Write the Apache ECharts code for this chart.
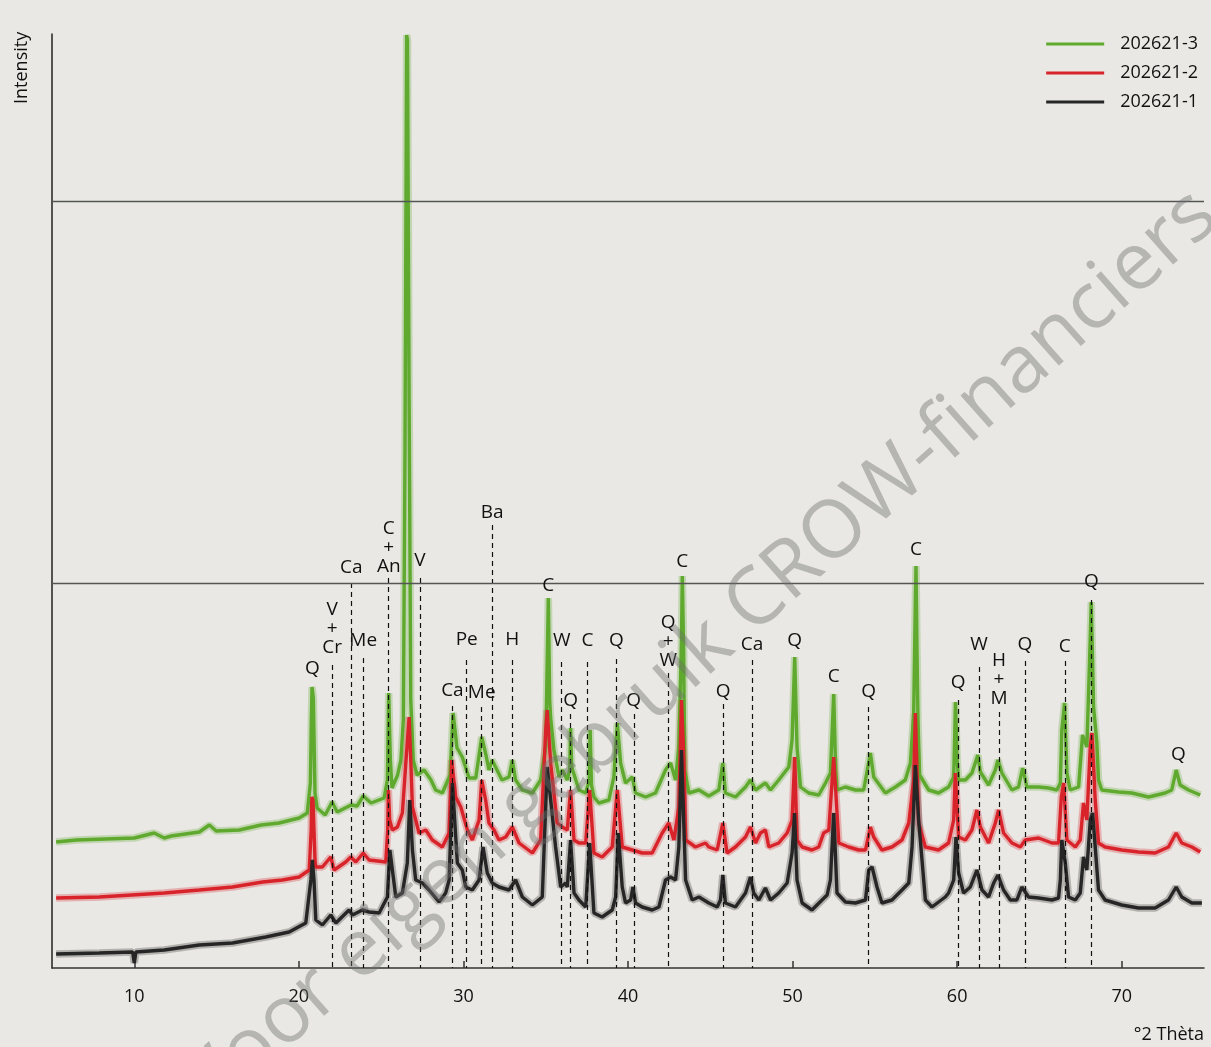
<!DOCTYPE html>
<html><head><meta charset="utf-8">
<script src="https://cdn.jsdelivr.net/npm/echarts@6/dist/echarts.min.js"></script>
<style>html,body{margin:0;padding:0;background:#e9e8e4;} #c{width:1211px;height:1047px;}</style>
</head><body><div id="c"></div>
<script>
// ---- data (°2θ, intensity in arbitrary units) ----
const seriesNames = ['202621-3', '202621-2', '202621-1'];
const seriesColors = ['#5ea92e', '#d8232a', '#262626'];

const s3 = [[5.25,126],[6.48,128],[10.00,130],[11.21,135],[11.82,130],[12.25,132],[13.95,136],[14.56,143],[14.98,137],[16.38,138],[17.71,143],[18.80,145],[20.02,150],[20.51,155],[20.70,185],[20.76,250],[20.80,281],[20.88,270],[20.98,175],[21.11,160],[21.60,153],[22.02,166],[22.33,156],[23.18,163],[23.54,162],[23.91,172],[24.39,165],[25.18,170],[25.38,188],[25.46,275],[25.56,208],[25.66,180],[26.00,193],[26.20,208],[26.35,248],[26.45,518],[26.55,933],[26.60,928],[26.70,568],[26.80,268],[26.95,208],[27.18,193],[27.30,192],[27.61,198],[28.03,188],[28.31,178],[28.72,175],[29.19,193],[29.37,255],[29.61,220],[29.93,211],[30.34,190],[30.75,190],[31.11,231],[31.37,213],[31.55,198],[31.74,208],[32.34,188],[32.77,191],[32.97,208],[33.17,188],[33.58,178],[34.19,175],[34.69,188],[35.00,221],[35.16,370],[35.24,268],[35.30,250],[35.50,218],[35.81,191],[36.01,198],[36.31,188],[36.46,198],[36.51,240],[36.58,201],[37.02,178],[37.43,175],[37.65,188],[37.70,238],[37.78,183],[37.93,171],[38.23,165],[38.84,168],[39.14,191],[39.35,245],[39.55,205],[39.85,185],[40.26,191],[40.46,175],[41.07,171],[41.67,175],[42.28,198],[42.59,205],[42.89,188],[43.09,221],[43.25,328],[43.30,392],[43.38,318],[43.45,198],[43.70,175],[44.31,178],[44.91,172],[45.52,178],[45.76,205],[45.92,175],[46.53,171],[47.14,181],[47.44,188],[47.75,178],[48.35,185],[48.66,178],[49.16,188],[49.77,201],[49.97,228],[50.13,311],[50.27,221],[50.48,181],[50.98,175],[51.59,173],[52.00,185],[52.30,195],[52.50,274],[52.62,198],[52.70,178],[53.21,181],[53.82,178],[54.32,178],[54.73,215],[54.93,191],[55.64,175],[56.25,181],[56.85,188],[57.16,205],[57.36,255],[57.46,368],[57.50,402],[57.56,318],[57.62,248],[57.72,193],[58.27,178],[58.87,175],[59.48,181],[59.79,191],[59.90,266],[60.00,208],[60.09,188],[60.50,188],[60.90,195],[61.26,213],[61.41,196],[61.91,183],[62.32,198],[62.48,208],[62.72,195],[63.33,178],[63.73,181],[63.98,200],[64.24,181],[64.95,181],[65.55,180],[66.06,178],[66.27,185],[66.36,238],[66.53,265],[66.67,195],[66.87,178],[67.38,181],[67.62,233],[67.88,221],[68.03,298],[68.15,366],[68.29,261],[68.49,225],[68.59,188],[68.79,178],[69.80,176],[70.61,175],[71.63,171],[72.64,175],[73.04,178],[73.31,198],[73.55,183],[74.06,178],[74.77,173]];

const s2 = [[5.25,70],[7.87,71],[9.85,73],[11.82,75],[13.95,78],[15.97,81],[17.80,86],[19.00,88],[20.02,91],[20.63,98],[20.75,138],[20.79,171],[20.86,168],[20.98,108],[21.03,101],[21.43,101],[21.94,111],[22.14,98],[22.85,106],[23.16,111],[23.46,106],[23.91,115],[24.27,108],[25.28,106],[25.40,138],[25.44,178],[25.52,148],[25.68,138],[25.99,141],[26.29,155],[26.50,205],[26.70,251],[26.80,208],[26.90,161],[27.30,135],[27.71,138],[28.11,128],[28.72,121],[29.13,135],[29.29,208],[29.53,171],[29.84,161],[30.24,138],[30.54,128],[30.95,148],[31.11,188],[31.35,168],[31.55,145],[31.86,138],[32.16,128],[32.57,131],[32.97,141],[33.38,125],[34.19,115],[34.69,128],[35.00,238],[35.09,258],[35.30,205],[35.70,145],[36.01,141],[36.31,138],[36.51,178],[36.72,128],[37.02,125],[37.43,125],[37.67,178],[37.93,115],[38.43,111],[39.04,121],[39.35,178],[39.65,121],[40.26,118],[40.86,115],[41.47,115],[42.08,135],[42.48,145],[42.79,128],[43.09,161],[43.25,268],[43.40,208],[43.50,128],[44.10,121],[44.71,125],[44.91,121],[45.42,118],[45.76,145],[46.02,115],[46.53,121],[47.14,131],[47.44,141],[47.75,125],[48.05,135],[48.35,138],[48.56,121],[49.16,125],[49.67,135],[49.97,148],[50.13,211],[50.27,128],[50.58,121],[51.18,118],[51.59,121],[51.89,135],[52.20,138],[52.50,211],[52.81,125],[53.41,121],[54.02,118],[54.43,118],[54.73,141],[54.93,131],[55.43,118],[56.04,121],[56.65,128],[57.06,145],[57.36,188],[57.46,255],[57.66,145],[58.07,121],[58.87,118],[59.48,125],[59.79,148],[59.89,195],[60.09,131],[60.50,128],[60.90,138],[61.20,158],[61.41,141],[61.91,125],[62.32,145],[62.52,158],[62.82,135],[63.33,125],[63.84,121],[64.14,128],[64.95,130],[65.76,125],[66.16,125],[66.33,171],[66.47,185],[66.67,128],[67.18,121],[67.48,128],[67.68,165],[67.88,148],[68.09,221],[68.19,235],[68.39,168],[68.59,125],[68.99,121],[70.00,118],[71.02,116],[72.03,115],[72.84,121],[73.31,135],[73.65,125],[74.26,121],[74.77,116]];

const s1 = [[5.25,14],[7.87,15],[9.90,16],[10.00,5],[10.10,16],[11.82,18],[13.95,23],[15.97,25],[17.99,31],[19.41,36],[20.42,45],[20.73,88],[20.82,108],[20.92,88],[21.03,48],[21.43,43],[21.94,53],[22.25,45],[23.05,58],[23.26,53],[23.86,58],[24.27,56],[24.88,55],[25.38,71],[25.53,118],[25.89,71],[26.29,75],[26.59,105],[26.74,168],[26.90,118],[27.10,88],[27.51,85],[27.91,78],[28.52,66],[28.92,75],[29.13,88],[29.33,185],[29.63,105],[29.93,98],[30.14,81],[30.54,78],[30.95,88],[31.19,121],[31.45,95],[31.75,85],[32.16,81],[32.77,78],[33.17,88],[33.58,71],[34.19,63],[34.79,71],[35.09,201],[35.60,121],[35.91,81],[36.21,85],[36.31,81],[36.51,128],[36.72,75],[37.02,68],[37.43,61],[37.67,125],[37.93,55],[38.43,51],[39.04,58],[39.25,71],[39.41,135],[39.65,81],[39.85,65],[40.16,68],[40.30,81],[40.46,65],[40.86,61],[41.47,58],[41.88,61],[42.28,88],[42.59,91],[42.89,88],[43.09,121],[43.25,218],[43.50,88],[43.90,68],[44.31,71],[44.91,65],[45.42,61],[45.62,68],[45.76,93],[45.92,65],[46.53,61],[47.14,75],[47.44,91],[47.64,75],[47.95,68],[48.35,80],[48.66,68],[49.16,75],[49.67,85],[49.97,115],[50.12,155],[50.27,88],[50.58,65],[51.18,58],[51.79,68],[52.10,73],[52.30,88],[52.50,155],[52.70,75],[53.21,66],[53.82,65],[54.43,68],[54.63,98],[54.83,101],[55.13,81],[55.43,65],[56.04,68],[56.65,78],[57.06,85],[57.26,121],[57.46,203],[57.66,148],[58.07,68],[58.47,61],[59.28,71],[59.48,75],[59.79,88],[59.93,131],[60.09,95],[60.39,75],[60.80,81],[61.20,98],[61.51,78],[61.91,71],[62.22,85],[62.48,93],[62.82,78],[63.23,68],[63.63,68],[63.93,81],[64.34,71],[64.95,70],[65.76,68],[66.16,70],[66.27,88],[66.36,128],[66.57,105],[66.77,71],[67.18,68],[67.48,75],[67.68,111],[67.88,98],[68.09,148],[68.23,155],[68.39,121],[68.59,78],[68.99,68],[70.00,63],[71.02,60],[72.03,60],[72.84,68],[73.31,81],[73.65,71],[74.26,65],[74.87,65]];

const xTicks = [10, 20, 30, 40, 50, 60, 70];
const refLevels = [767, 385];

// phase annotations
const peakPos    = [20.82, 22.02, 23.18, 23.91, 25.46, 26.57, 27.35, 29.33, 30.20, 31.11, 31.75, 32.97, 35.16, 35.97, 36.51, 37.54, 39.30, 40.35, 42.44, 43.30, 45.78, 47.53, 50.13, 52.50, 54.62, 57.50, 60.06, 61.33, 62.54, 64.12, 66.54, 68.15, 73.45];
const peakText   = ['Q', 'V\n+\nCr', 'Ca', 'Me', 'C\n+\nAn', 'Q', 'V', 'Ca', 'Pe', 'Me', 'Ba', 'H', 'C', 'W', 'Q', 'C', 'Q', 'Q', 'Q\n+\nW', 'C', 'Q', 'Ca', 'Q', 'C', 'Q', 'C', 'Q', 'W', 'H\n+\nM', 'Q', 'C', 'Q', 'Q'];
const peakLabelY = [299, 339, 400, 327, 420, 949, 407, 277, 328, 275, 455, 328, 382, 327, 267, 327, 327, 267, 326, 406, 276, 323, 327, 291, 276, 418, 285, 323, 288, 323, 321, 386, 213];
const peakLineTop= [null, 303, 385, 310, 390, null, 390, 262, 308, 261, 443, 308, null, 306, 254, 306, 309, 254, 295, null, 264, 308, null, null, 261, null, 268, 301, 256, 307, 307, 368, null];

const FONT = '"Open Sans", "Noto Sans", sans-serif';
const TEXT = '#111';

const chart = echarts.init(document.getElementById('c'), null, {renderer: 'canvas'});

const traces = [s3, s2, s1];
const series = [];
// halos (drawn first)
traces.forEach((d, i) => {
  series.push({
    name: seriesNames[i] + '_halo', type: 'line', data: d, showSymbol: false, silent: true,
    lineStyle: {color: seriesColors[i], width: 7.5, opacity: 0.28}, z: 1, animation: false
  });
});
traces.forEach((d, i) => {
  series.push({
    name: seriesNames[i], type: 'line', data: d, showSymbol: false,
    itemStyle: {color: seriesColors[i]},
    lineStyle: {color: seriesColors[i], width: 3.4}, z: 2 + i, animation: false
  });
});

const dashData = [];
peakPos.forEach((p, i) => {
  if (peakLineTop[i] != null) dashData.push([{coord: [p, peakLineTop[i]]}, {coord: [p, 0]}]);
});

series.push({
  name: 'labels', type: 'scatter', z: 10, silent: true, animation: false,
  symbolSize: 1, itemStyle: {color: '#e9e8e4', opacity: 1},
  data: peakPos.map((p, i) => ({value: [p, peakLabelY[i]], name: peakText[i]})),
  label: {
    show: true, position: [0.5, 0.5], formatter: (pr) => pr.name,
    color: TEXT, fontSize: 19, lineHeight: 19, fontFamily: FONT, align: 'center', verticalAlign: 'middle',
    textBorderWidth: 0, opacity: 1
  },
  markLine: {
    silent: true, symbol: ['none', 'none'], animation: false,
    label: {show: false},
    lineStyle: {type: [5, 4], color: '#111', width: 1.2},
    data: dashData
  }
});
series.push({
  name: 'levels', type: 'line', data: [], z: 0, silent: true,
  markLine: {
    silent: true, symbol: ['none', 'none'], animation: false, label: {show: false},
    lineStyle: {type: 'solid', color: '#555', width: 1.3},
    data: refLevels.map(v => ({yAxis: v}))
  }
});

chart.setOption({
  backgroundColor: '#e9e8e4',
  animation: false,
  textStyle: {fontFamily: FONT},
  grid: {left: 52, right: 7, top: 34, bottom: 79, containLabel: false},
  legend: {
    data: seriesNames, orient: 'vertical', right: 8, top: 30,
    itemWidth: 58, itemHeight: 3, itemGap: 11, icon: 'rect',
    textStyle: {fontSize: 18, color: TEXT, fontFamily: FONT, padding: [0, 0, 0, 11]}
  },
  xAxis: {
    type: 'value', min: 5, max: 75,
    name: '°2 Thèta', nameLocation: 'end', nameGap: 0,
    nameTextStyle: {fontSize: 18, color: TEXT, fontFamily: FONT, align: 'right', verticalAlign: 'top', padding: [58, 0, 0, 0]},
    axisLine: {show: true, onZero: false, lineStyle: {color: '#333', width: 1.5}},
    axisTick: {show: true, inside: true, length: 7, customValues: xTicks, lineStyle: {color: '#333', width: 1.5}},
    axisLabel: {show: true, customValues: xTicks, margin: 20, fontSize: 18, color: TEXT, fontFamily: FONT},
    splitLine: {show: false}
  },
  yAxis: {
    type: 'value', min: 0, max: 934,
    axisLine: {show: true, lineStyle: {color: '#222', width: 1.5}},
    axisTick: {show: false}, axisLabel: {show: false}, splitLine: {show: false}
  },
  graphic: [
    {type: 'text', x: 31, y: 104, rotation: Math.PI / 2, z: 20,
     style: {text: 'Intensity', fontSize: 18, fontFamily: FONT, fill: TEXT, textAlign: 'left', textVerticalAlign: 'bottom'}},
    {type: 'text', x: 1206, y: 205, rotation: 41.5 * Math.PI / 180, z: 100, silent: true,
     style: {text: 'Voor eigen gebruik CROW-financiers', fontSize: 80, fontFamily: FONT, fill: 'rgba(110,110,110,0.42)', textAlign: 'right', textVerticalAlign: 'middle'}}
  ],
  series: series
});
</script></body></html>
